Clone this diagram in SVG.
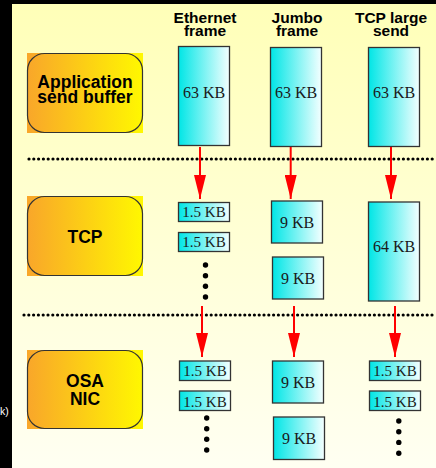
<svg xmlns="http://www.w3.org/2000/svg" width="436" height="468" viewBox="0 0 436 468">
<defs>
<linearGradient id="bg" x1="0" y1="0" x2="0" y2="1">
<stop offset="0" stop-color="#FFFFB8"/>
<stop offset="1" stop-color="#FFFFF2"/>
</linearGradient>
<linearGradient id="og" x1="0" y1="0" x2="1" y2="0">
<stop offset="0" stop-color="#F9A62A"/>
<stop offset="1" stop-color="#FFF800"/>
</linearGradient>
<linearGradient id="cg" x1="0" y1="0" x2="1" y2="0">
<stop offset="0" stop-color="#00E6E6"/>
<stop offset="1" stop-color="#F4FFFF"/>
</linearGradient>
<marker id="ah" viewBox="0 0 24 12" markerWidth="24" markerHeight="12" refX="24" refY="6" orient="auto" markerUnits="userSpaceOnUse">
<path d="M0,0 L24,6 L0,12 z" fill="#FF0000"/>
</marker>
<style>
.hd{font-family:"Liberation Sans",Arial,sans-serif;font-weight:bold;font-size:15.5px;fill:#000;text-anchor:middle}
.lb{font-family:"Liberation Sans",Arial,sans-serif;font-weight:bold;font-size:17.5px;fill:#000;text-anchor:middle}
.kb{font-family:"Liberation Serif","Times New Roman",serif;font-size:16px;fill:#1a1a1a;text-anchor:middle}
.sk{font-family:"Liberation Serif","Times New Roman",serif;font-size:15px;fill:#1a1a1a;text-anchor:middle}
.cb{fill:url(#cg);stroke:#333;stroke-width:1.3}
.rb{fill:none;stroke:#333;stroke-width:1.2}
.sep{stroke:#000;stroke-width:3.2;stroke-linecap:round;stroke-dasharray:0 4.8;fill:none}
.ar{stroke:#FF0000;stroke-width:2;fill:none;marker-end:url(#ah)}
.dot{fill:#000}
</style>
</defs>
<rect x="0" y="0" width="436" height="468" fill="#000"/>
<rect x="12" y="4" width="424" height="464" fill="url(#bg)"/>
<text x="0" y="415" font-family="Liberation Sans,Arial,sans-serif" font-size="10.5" fill="#fff">k)</text>

<g id="separators">
<line class="sep" x1="29" y1="159" x2="436" y2="159"/>
<line class="sep" x1="24" y1="315" x2="436" y2="315"/>
</g>

<g id="headers">
<text class="hd" x="205" y="22.5">Ethernet</text>
<text class="hd" x="205" y="36">frame</text>
<text class="hd" x="297" y="22.5">Jumbo</text>
<text class="hd" x="297" y="36">frame</text>
<text class="hd" x="391" y="22.5">TCP large</text>
<text class="hd" x="391" y="36">send</text>
</g>

<g id="app">
<rect x="27" y="53" width="116" height="80" fill="url(#og)"/>
<rect class="rb" x="27.5" y="53.5" width="115" height="79" rx="17"/>
<text class="lb" x="85" y="88">Application</text>
<text class="lb" x="85" y="103">send buffer</text>
</g>
<g id="tcp">
<rect x="27" y="196" width="116" height="80" fill="url(#og)"/>
<rect class="rb" x="27.5" y="196.5" width="115" height="79" rx="17"/>
<text class="lb" x="85" y="243">TCP</text>
</g>
<g id="osa">
<rect x="27" y="350" width="116" height="79" fill="url(#og)"/>
<rect class="rb" x="27.5" y="350.5" width="115" height="78" rx="17"/>
<text class="lb" x="85" y="387">OSA</text>
<text class="lb" x="85" y="405">NIC</text>
</g>

<g id="eth-app"><rect class="cb" x="178.5" y="46.5" width="51" height="99"/><text class="kb" x="204" y="98">63 KB</text></g>
<g id="jumbo-app"><rect class="cb" x="270.5" y="47.5" width="51" height="99"/><text class="kb" x="296" y="98">63 KB</text></g>
<g id="tso-app"><rect class="cb" x="368.5" y="47.5" width="51" height="99"/><text class="kb" x="394" y="98">63 KB</text></g>

<g id="eth-tcp">
<rect class="cb" x="178.5" y="202.5" width="51" height="19"/><text class="sk" x="204" y="217">1.5 KB</text>
<rect class="cb" x="178.5" y="232.5" width="51" height="19"/><text class="sk" x="204" y="247">1.5 KB</text>
<circle class="dot" cx="205.5" cy="265" r="2.7"/><circle class="dot" cx="205.5" cy="275.7" r="2.7"/><circle class="dot" cx="205.5" cy="286.3" r="2.7"/><circle class="dot" cx="205.5" cy="297" r="2.7"/>
</g>
<g id="jumbo-tcp">
<rect class="cb" x="271.5" y="201" width="51" height="42"/><text class="kb" x="297" y="228">9 KB</text>
<rect class="cb" x="272.5" y="257" width="51" height="42"/><text class="kb" x="298" y="284">9 KB</text>
</g>
<g id="tso-tcp"><rect class="cb" x="368.5" y="202" width="51" height="99"/><text class="kb" x="394" y="252">64 KB</text></g>

<g id="eth-osa">
<rect class="cb" x="179.5" y="361" width="51" height="19.5"/><text class="sk" x="205" y="376">1.5 KB</text>
<rect class="cb" x="179.5" y="391" width="51" height="19.5"/><text class="sk" x="205" y="406.5">1.5 KB</text>
<circle class="dot" cx="206.7" cy="418" r="2.7"/><circle class="dot" cx="206.7" cy="428.7" r="2.7"/><circle class="dot" cx="206.7" cy="439.3" r="2.7"/><circle class="dot" cx="206.7" cy="450" r="2.7"/>
</g>
<g id="jumbo-osa">
<rect class="cb" x="272.5" y="361" width="51" height="42"/><text class="kb" x="298" y="388">9 KB</text>
<rect class="cb" x="273.5" y="417" width="51" height="42.5"/><text class="kb" x="299" y="444">9 KB</text>
</g>
<g id="tso-osa">
<rect class="cb" x="369.5" y="361" width="51" height="19.5"/><text class="sk" x="395" y="376">1.5 KB</text>
<rect class="cb" x="369.5" y="391" width="51" height="19.5"/><text class="sk" x="395" y="406.5">1.5 KB</text>
<circle class="dot" cx="398.8" cy="421" r="2.7"/><circle class="dot" cx="398.8" cy="431.7" r="2.7"/><circle class="dot" cx="398.8" cy="442.4" r="2.7"/><circle class="dot" cx="398.8" cy="453.2" r="2.7"/>
</g>

<g id="connectors">
<line class="ar" x1="200" y1="147" x2="200" y2="199"/>
<line class="ar" x1="290.7" y1="147" x2="290.7" y2="199"/>
<line class="ar" x1="391" y1="147" x2="391" y2="199"/>
<line class="ar" x1="202" y1="306" x2="202" y2="357"/>
<line class="ar" x1="294" y1="306" x2="294" y2="357"/>
<line class="ar" x1="395" y1="306" x2="395" y2="357"/>
</g>
</svg>
